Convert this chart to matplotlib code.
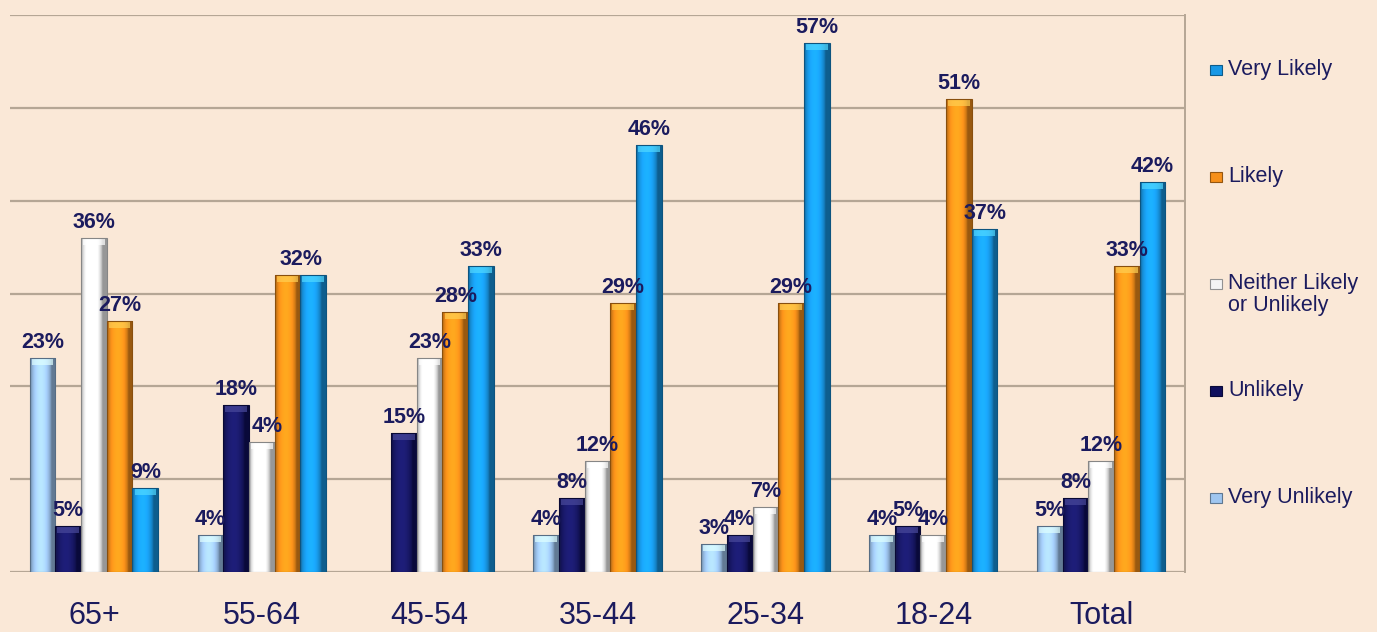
import numpy as np
import matplotlib
matplotlib.use("Agg")
import matplotlib.pyplot as plt
from matplotlib.patches import Rectangle
from matplotlib.colors import to_rgb

categories = ["65+", "55-64", "45-54", "35-44", "25-34", "18-24", "Total"]
series_names = ["Very Unlikely", "Unlikely", "Neither Likely\nor Unlikely", "Likely", "Very Likely"]
very_unlikely = [23, 4, 0, 4, 3, 4, 5]
unlikely = [5, 18, 15, 8, 4, 5, 8]
neither = [36, 14, 23, 12, 7, 4, 12]
likely = [27, 32, 28, 29, 29, 51, 33]
very_likely = [9, 32, 33, 46, 57, 37, 42]
values = [very_unlikely, unlikely, neither, likely, very_likely]
colors = ["#9FC6F0", "#10105E", "#F4F4F4", "#F7901A", "#1898E6"]
# label text overrides as they appear in the picture (occluded / merged labels)
label_override = {(2, 1): "4%", (4, 1): None}
label_dx_px = {(2, 1): 5, (3, 1): 14}

text_color = "#1B1B5E"
bg = "#FAE8D7"
grid_c = "#B5A695"

W, H = 1377, 632
fig = plt.figure(figsize=(W / 100, H / 100), dpi=100, facecolor=bg)
ax = fig.add_axes([10 / W, 1 - 572 / H, (1185 - 10) / W, (572 - 15) / H])
ax.set_facecolor(bg)

for y in range(0, 61, 10):
    ax.axhline(y, color=grid_c, lw=1.6, zorder=1)
for s in ["top", "left", "bottom"]:
    ax.spines[s].set_visible(False)
ax.spines["right"].set_color(grid_c)
ax.spines["right"].set_linewidth(1.4)
ax.set_yticks([])
ax.tick_params(axis="x", length=0, pad=21)
ax.set_xticks(range(len(categories)))
ax.set_xticklabels(categories, fontsize=22, color=text_color, family="Liberation Sans")

ppd = (572 - 15) / 60.0  # pixels per data unit (y)
ppx = (1185 - 10) / len(categories)  # pixels per x unit

bw = 0.153
n = len(series_names)
t = np.linspace(0, 1, 64)
profile = 0.62 + 0.55 * np.sin(np.pi * np.clip(t * 1.2, 0, 1)) ** 0.6


def shade(c, f):
    return np.clip(np.array(to_rgb(c)) * f, 0, 1)


for i, (vals, col) in enumerate(zip(values, colors)):
    base = np.array(to_rgb(col))
    grad = np.array([np.clip(base * p + (0.08 * (p - 0.62) if i == 1 else 0), 0, 1) for p in profile])
    img = grad[np.newaxis, :, :]
    xs = np.arange(len(categories)) + (i - (n - 1) / 2) * bw
    bars = ax.bar(xs, vals, width=bw, color=col, edgecolor="none", zorder=3)
    for j, (b, v) in enumerate(zip(bars, vals)):
        if v <= 0:
            continue
        x0 = b.get_x()
        im = ax.imshow(img, extent=(x0, x0 + bw, 0, v), aspect="auto", zorder=3.1, interpolation="bilinear")
        im.set_clip_path(b)
        capd = min(7 / ppd, v * 0.5)
        cap = Rectangle((x0 + bw * 0.08, v - capd), bw * 0.84, capd,
                        facecolor=np.clip(base * 1.05 + 0.22, 0, 1),
                        edgecolor="none", alpha=0.7, zorder=3.2)
        ax.add_patch(cap)
        ax.add_patch(Rectangle((x0, 0), bw, v, facecolor="none", edgecolor=shade(col, 0.55), lw=0.8, zorder=3.3))
        key = (i, j)
        txt = label_override.get(key, f"{v}%")
        if txt is None:
            continue
        dx = label_dx_px.get(key, 0) / ppx
        ax.text(xs[j] + dx, v + 10 / ppd, txt, ha="center", va="baseline", fontsize=15.5, fontweight="bold",
                color=text_color, family="Liberation Sans", zorder=5)

ax.set_xlim(-0.5, len(categories) - 0.5)
ax.set_ylim(0, 60)

# legend (top entry = last series)
ys = [70, 177, 284, 391, 498]
for k, i in enumerate(range(n - 1, -1, -1)):
    yc = 1 - ys[k] / H
    col = colors[i]
    fig.patches.append(Rectangle((1210 / W, yc - 5 / H), 12 / W, 10 / H, transform=fig.transFigure,
                                 facecolor=col, edgecolor=shade(col, 0.6), lw=0.8))
    fig.text(1228 / W, yc + 11 / H, series_names[i], ha="left", va="top", fontsize=15.5,
             color=text_color, family="Liberation Sans", linespacing=1.05)

fig.savefig("out.png", dpi=100, facecolor=bg)
